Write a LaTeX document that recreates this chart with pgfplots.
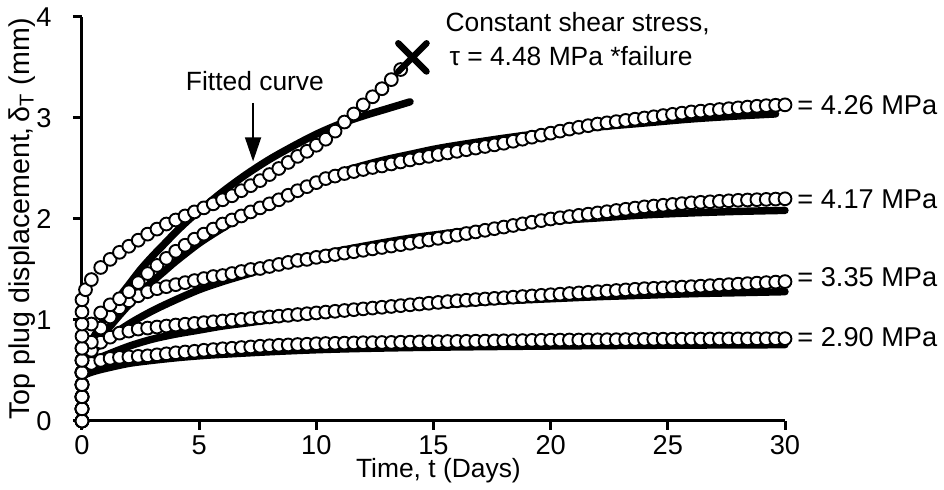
\documentclass[border=0pt]{standalone}
\usepackage{fontspec}
\setmainfont{Liberation Sans}
\usepackage{pgfplots}
\pgfplotsset{compat=1.18}
\usetikzlibrary{arrows.meta}
\newcommand{\fs}{\fontsize{13.6}{16.5}\selectfont}
\newcommand{\ft}{\fontsize{13.2}{16}\selectfont}
\newcommand{\fl}{\fontsize{14.3}{17}\selectfont}
\pgfplotsset{
  dat/.style={only marks, mark=*, mark size=3.2pt, mark options={fill=white, draw=black, line width=0.95pt}},
  fit/.style={no marks, black, line width=3.7pt, line cap=round, line join=round, smooth},
}
\begin{document}
\begin{tikzpicture}
\path[use as bounding box] (0,0) rectangle (472pt,245pt);
\begin{axis}[
  at={(41pt,34.5pt)}, anchor=south west,
  scale only axis, width=351.5pt, height=202pt,
  xmin=0, xmax=30, ymin=0, ymax=4,
  axis lines*=left,
  clip=false,
  xtick={0,5,...,30}, ytick={0,1,2,3,4},
  tick align=outside, major tick length=4.5pt,
  every tick/.style={black, line width=1.5pt},
  axis line style={line width=1.5pt},
  tick label style={font=\fs},
  yticklabel={\pgfmathprintnumber{\tick}\hspace*{10.5pt}},
  every y tick label/.append style={anchor=east, inner sep=0pt},
  every x tick label/.append style={anchor=north, inner sep=0pt, yshift=-2.5pt},
  label style={font=\ft},
  /pgf/number format/assume math mode=true,
  xlabel={Time, t (Days)},
  ylabel={Top plug displacement,\,δ\textsubscript{T} (mm)},
  xlabel style={at={(axis description cs:0.507,0)}, anchor=base, yshift=-28.5pt, inner sep=0pt},
  ylabel style={font=\fl, at={(axis description cs:-0.066,0.5)}, anchor=south, inner sep=0pt},
]
% ---- data: 2.90 MPa
\addplot[dat] coordinates {
(0,0)(0,0.12)(0,0.24)(0,0.36)(0,0.48)
(0.4,0.57)(0.8,0.60)(1.2,0.62)(1.6,0.63)(2.0,0.635)(2.4,0.64)(2.8,0.645)(3.2,0.655)(3.6,0.665)(4.0,0.675)
(4.4,0.683)(4.8,0.69)(5.2,0.70)(5.6,0.707)(6.0,0.715)(6.4,0.72)(6.8,0.727)(7.2,0.733)(7.6,0.74)(8.0,0.745)
(8.4,0.75)(8.8,0.753)(9.2,0.757)(9.6,0.76)(10.0,0.765)(10.4,0.767)(10.8,0.769)(11.2,0.771)(11.6,0.773)(12.0,0.775)
(12.4,0.776)(12.8,0.777)(13.2,0.778)(13.6,0.78)(14.0,0.781)(14.4,0.783)(14.8,0.784)(15.2,0.785)(15.6,0.787)(16.0,0.788)
(16.4,0.789)(16.8,0.79)(17.2,0.791)(17.6,0.793)(18.0,0.794)(18.4,0.795)(18.8,0.796)(19.2,0.798)(19.6,0.799)(20.0,0.80)
(20.4,0.801)(20.8,0.802)(21.2,0.802)(21.6,0.803)(22.0,0.804)(22.4,0.805)(22.8,0.805)(23.2,0.806)(23.6,0.807)(24.0,0.808)
(24.4,0.809)(24.8,0.81)(25.2,0.81)(25.6,0.81)(26.0,0.811)(26.4,0.811)(26.8,0.812)(27.2,0.812)(27.6,0.813)(28.0,0.813)
(28.4,0.813)(28.8,0.814)(29.2,0.814)(29.6,0.815)(30.0,0.815)
};
% ---- data: 3.35 MPa
\addplot[dat] coordinates {
(0,0)(0,0.12)(0,0.24)(0,0.36)(0,0.48)
(0.4,0.70)(0.8,0.78)(1.2,0.83)(1.6,0.87)(2.0,0.89)(2.4,0.91)(2.8,0.92)(3.2,0.93)(3.6,0.94)(4.0,0.95)
(4.4,0.958)(4.8,0.966)(5.2,0.974)(5.6,0.982)(6.0,0.99)(6.4,0.998)(6.8,1.006)(7.2,1.014)(7.6,1.022)(8.0,1.03)
(8.4,1.038)(8.8,1.046)(9.2,1.054)(9.6,1.062)(10.0,1.07)(10.4,1.078)(10.8,1.086)(11.2,1.094)(11.6,1.102)(12.0,1.11)
(12.4,1.118)(12.8,1.126)(13.2,1.134)(13.6,1.142)(14.0,1.15)(14.4,1.158)(14.8,1.166)(15.2,1.174)(15.6,1.182)(16.0,1.19)
(16.4,1.196)(16.8,1.202)(17.2,1.208)(17.6,1.214)(18.0,1.22)(18.4,1.226)(18.8,1.232)(19.2,1.238)(19.6,1.244)(20.0,1.25)
(20.4,1.256)(20.8,1.262)(21.2,1.268)(21.6,1.274)(22.0,1.28)(22.4,1.286)(22.8,1.292)(23.2,1.298)(23.6,1.304)(24.0,1.31)
(24.4,1.314)(24.8,1.318)(25.2,1.322)(25.6,1.326)(26.0,1.33)(26.4,1.335)(26.8,1.34)(27.2,1.345)(27.6,1.35)(28.0,1.355)
(28.4,1.36)(28.8,1.365)(29.2,1.37)(29.6,1.375)(30.0,1.38)
};
% ---- data: 4.17 MPa
\addplot[dat] coordinates {
(0,0)(0,0.12)(0,0.24)(0,0.36)(0,0.48)(0,0.6)
(0.4,0.78)(0.8,0.92)(1.2,1.03)(1.6,1.12)(2.0,1.19)(2.4,1.24)(2.8,1.28)(3.2,1.31)(3.6,1.33)(4.0,1.35)
(4.4,1.37)(4.8,1.39)(5.2,1.41)(5.6,1.43)(6.0,1.44)(6.4,1.46)(6.8,1.48)(7.2,1.50)(7.6,1.51)(8.0,1.53)
(8.4,1.55)(8.8,1.57)(9.2,1.59)(9.6,1.60)(10.0,1.62)(10.4,1.634)(10.8,1.648)(11.2,1.662)(11.6,1.676)(12.0,1.69)
(12.4,1.704)(12.8,1.718)(13.2,1.732)(13.6,1.746)(14.0,1.76)(14.4,1.776)(14.8,1.792)(15.2,1.808)(15.6,1.824)(16.0,1.84)
(16.4,1.856)(16.8,1.872)(17.2,1.888)(17.6,1.904)(18.0,1.92)(18.4,1.936)(18.8,1.952)(19.2,1.968)(19.6,1.984)(20.0,2.0)
(20.4,2.012)(20.8,2.024)(21.2,2.036)(21.6,2.048)(22.0,2.06)(22.4,2.072)(22.8,2.084)(23.2,2.096)(23.6,2.108)(24.0,2.12)
(24.4,2.128)(24.8,2.136)(25.2,2.144)(25.6,2.152)(26.0,2.16)(26.4,2.165)(26.8,2.17)(27.2,2.175)(27.6,2.18)(28.0,2.185)
(28.4,2.188)(28.8,2.191)(29.2,2.194)(29.6,2.197)(30.0,2.2)
};
% ---- data: 4.26 MPa
\addplot[dat] coordinates {
(0,0)(0,0.12)(0,0.24)(0,0.36)(0,0.48)(0,0.6)(0,0.72)
(0.4,0.96)(0.8,1.07)(1.2,1.15)(1.6,1.21)(2.0,1.28)(2.4,1.37)(2.8,1.46)(3.2,1.54)(3.6,1.61)(4.0,1.68)
(4.4,1.74)(4.8,1.80)(5.2,1.85)(5.6,1.90)(6.0,1.95)(6.4,1.99)(6.8,2.03)(7.2,2.07)(7.6,2.11)(8.0,2.15)
(8.4,2.19)(8.8,2.235)(9.2,2.28)(9.6,2.32)(10.0,2.36)(10.4,2.40)(10.8,2.425)(11.2,2.45)(11.6,2.47)(12.0,2.49)
(12.4,2.51)(12.8,2.525)(13.2,2.545)(13.6,2.565)(14.0,2.585)(14.4,2.605)(14.8,2.62)(15.2,2.638)(15.6,2.654)(16.0,2.67)
(16.4,2.686)(16.8,2.702)(17.2,2.718)(17.6,2.734)(18.0,2.75)(18.4,2.77)(18.8,2.79)(19.2,2.81)(19.6,2.83)(20.0,2.85)
(20.4,2.87)(20.8,2.89)(21.2,2.908)(21.6,2.924)(22.0,2.94)(22.4,2.952)(22.8,2.964)(23.2,2.976)(23.6,2.988)(24.0,3.0)
(24.4,3.012)(24.8,3.024)(25.2,3.036)(25.6,3.048)(26.0,3.06)(26.4,3.068)(26.8,3.076)(27.2,3.084)(27.6,3.092)(28.0,3.10)
(28.4,3.108)(28.8,3.116)(29.2,3.122)(29.6,3.126)(30.0,3.13)
};
% ---- data: 4.48 MPa (failure)
\addplot[dat] coordinates {
(0,0)(0,0.12)(0,0.24)(0,0.36)(0,0.48)(0,0.6)(0,0.72)(0,0.84)(0,0.96)(0,1.08)(0,1.2)(0.15,1.3)
(0.4,1.40)(0.8,1.52)(1.2,1.60)(1.6,1.67)(2.0,1.73)(2.4,1.79)(2.8,1.85)(3.2,1.90)(3.6,1.95)(4.0,1.99)
(4.4,2.03)(4.8,2.07)(5.2,2.11)(5.6,2.15)(6.0,2.19)(6.4,2.23)(6.8,2.28)(7.2,2.33)(7.6,2.38)(8.0,2.44)
(8.4,2.50)(8.8,2.56)(9.2,2.62)(9.6,2.67)(10.0,2.73)(10.4,2.79)(10.8,2.87)(11.2,2.96)(11.6,3.04)(12.0,3.13)
(12.4,3.21)(12.8,3.29)(13.2,3.38)(13.6,3.48)
};
% ---- fitted curves
\addplot[no marks, black, line width=3.7pt, line cap=round] coordinates {(0,0)(0,0.6)};
\addplot[fit] coordinates {(0,0.45)(0.25,0.47)(0.5,0.49)(1,0.52)(2,0.57)(3,0.6)(4,0.625)(5,0.645)(6,0.66)(8,0.685)(10,0.705)(12,0.718)(15,0.73)(20,0.742)(25,0.75)(30,0.755)};
\addplot[fit] coordinates {(0,0.52)(0.25,0.56)(0.5,0.6)(1,0.65)(2,0.74)(3,0.81)(4,0.86)(5,0.9)(6,0.94)(7,0.97)(8,1.0)(10,1.05)(12,1.09)(14,1.13)(16,1.16)(18,1.19)(20,1.21)(22,1.23)(24,1.245)(26,1.26)(28,1.27)(30,1.28)};
\addplot[fit] coordinates {(0,0.58)(0.5,0.7)(1,0.8)(2,0.96)(3,1.09)(4,1.2)(5,1.3)(6,1.38)(7,1.45)(8,1.52)(9,1.58)(10,1.64)(12,1.73)(14,1.81)(16,1.87)(18,1.93)(20,1.98)(22,2.01)(24,2.04)(26,2.06)(28,2.075)(30,2.085)};
\addplot[fit] coordinates {(0,0.6)(0.5,0.74)(1,0.88)(1.5,1.02)(2,1.15)(2.5,1.27)(3,1.38)(3.5,1.48)(4,1.58)(5,1.76)(6,1.91)(7,2.05)(8,2.17)(9,2.27)(10,2.37)(11,2.46)(12,2.53)(13,2.59)(14,2.64)(15,2.69)(16,2.73)(18,2.8)(20,2.86)(22,2.91)(24,2.95)(26,2.99)(28,3.02)(29.6,3.04)};
\addplot[fit] coordinates {(0,0.6)(0.25,0.72)(0.5,0.83)(1,1.03)(1.5,1.2)(2,1.35)(2.5,1.5)(3,1.63)(3.5,1.75)(4,1.87)(4.5,1.98)(5,2.08)(6,2.27)(7,2.44)(8,2.59)(9,2.72)(10,2.84)(11,2.94)(12,3.02)(13,3.09)(14,3.16)};
% ---- failure mark
\addplot[only marks, mark=x, mark size=10pt, mark options={line width=3.2pt, line cap=round, black}] coordinates {(14.1,3.6)};
% ---- annotations
\node[anchor=center, font=\ft, inner sep=0pt] at (axis cs:7.38,3.37) {Fitted curve};
\draw[line width=0.8pt, -{Triangle[length=12pt,width=8pt]}] (axis cs:7.3,3.15) -- (axis cs:7.3,2.57);
\node[anchor=base, font=\ft, inner sep=0pt] at (axis cs:21.15,3.861) {Constant shear stress,};
\node[anchor=base, font=\ft, inner sep=0pt] at (axis cs:20.87,3.515) {τ = 4.48 MPa *failure};
\node[anchor=west, font=\fs, inner sep=0pt, xshift=6pt] at (axis cs:30,3.13) {= 4.26 MPa};
\node[anchor=west, font=\fs, inner sep=0pt, xshift=6pt] at (axis cs:30,2.2) {= 4.17 MPa};
\node[anchor=west, font=\fs, inner sep=0pt, xshift=6pt] at (axis cs:30,1.42) {= 3.35 MPa};
\node[anchor=west, font=\fs, inner sep=0pt, xshift=6pt] at (axis cs:30,0.83) {= 2.90 MPa};
\end{axis}
\end{tikzpicture}
\end{document}
